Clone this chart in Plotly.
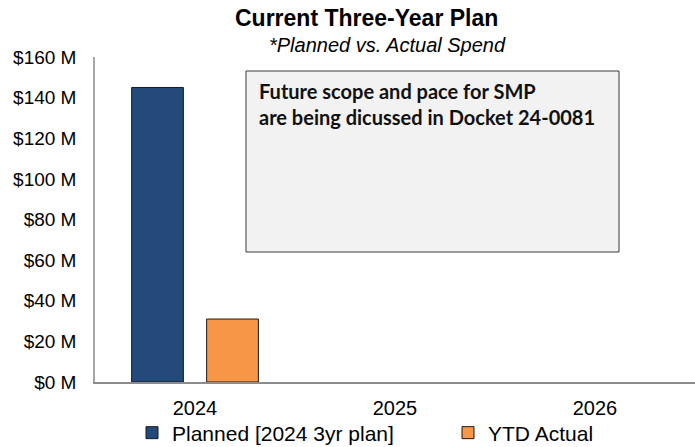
import plotly.graph_objects as go

years = ["2024", "2025", "2026"]
planned = [145, None, None]
ytd_actual = [31, None, None]
y_ticks = [0, 20, 40, 60, 80, 100, 120, 140, 160]
y_tick_text = ["$%d M" % v for v in y_ticks]

fig = go.Figure()
fig.add_trace(go.Bar(x=years, y=planned, name="Planned [2024 3yr plan]", legend="legend",
                     marker=dict(color="#234A7B", line=dict(color="#1a1a1a", width=1))))
fig.add_trace(go.Bar(x=years, y=ytd_actual, name="YTD Actual", legend="legend2",
                     marker=dict(color="#F79646", line=dict(color="#1a1a1a", width=1))))

leg_common = dict(orientation="h", xref="container", xanchor="left",
                  yref="container", y=14/447, yanchor="middle",
                  font=dict(size=21), itemwidth=30, bgcolor="rgba(0,0,0,0)")

fig.update_layout(
    width=695, height=447,
    margin=dict(l=95, r=0, t=57, b=65, autoexpand=False),
    paper_bgcolor="white", plot_bgcolor="white",
    barmode="group", bargap=0.25, bargroupgap=0.31,
    font=dict(family="Liberation Sans, Arial", color="black", size=19),
    showlegend=True,
    legend=dict(x=132/695, **leg_common),
    legend2=dict(x=448/695, **leg_common),
    xaxis=dict(type="category", range=[-0.5, 2.5], showline=True, linecolor="#8c8c8c",
               linewidth=1.5, ticks="", tickfont=dict(size=20), showgrid=False,
               automargin=False, ticklabelstandoff=7),
    yaxis=dict(range=[0, 160], tickvals=y_ticks, ticktext=y_tick_text,
               showline=True, linecolor="#a6a6a6", linewidth=1.5, ticks="",
               ticklabelstandoff=13, showgrid=False, zeroline=False,
               tickfont=dict(size=19), automargin=False),
)

fig.add_annotation(text="<b>Current Three-Year Plan</b>", xref="paper", yref="paper",
                   x=0.452, y=1.0, yshift=39, showarrow=False, font=dict(size=23), yanchor="middle")
fig.add_annotation(text="<i>*Planned vs. Actual Spend</i>", xref="paper", yref="paper",
                   x=0.487, y=1.0, yshift=12, showarrow=False, font=dict(size=20), yanchor="middle")

fig.add_shape(type="rect", xref="paper", yref="paper",
              x0=(246-95)/600, x1=(619-95)/600, y0=(382-252)/325, y1=(382-71)/325,
              fillcolor="#F2F2F2", line=dict(color="#3a3a3a", width=1))
fig.add_annotation(text="<b>Future scope and pace for SMP<br>are being dicussed in Docket 24-0081</b>",
                   xref="paper", yref="paper", x=(257-95)/600, y=(382-77)/325,
                   xanchor="left", yanchor="top", align="left", showarrow=False,
                   font=dict(family="Lato, Open Sans", size=20, color="#111111"))

fig.write_html("out.html", config={"displayModeBar": False},
               post_script="document.body.style.margin='0';")
